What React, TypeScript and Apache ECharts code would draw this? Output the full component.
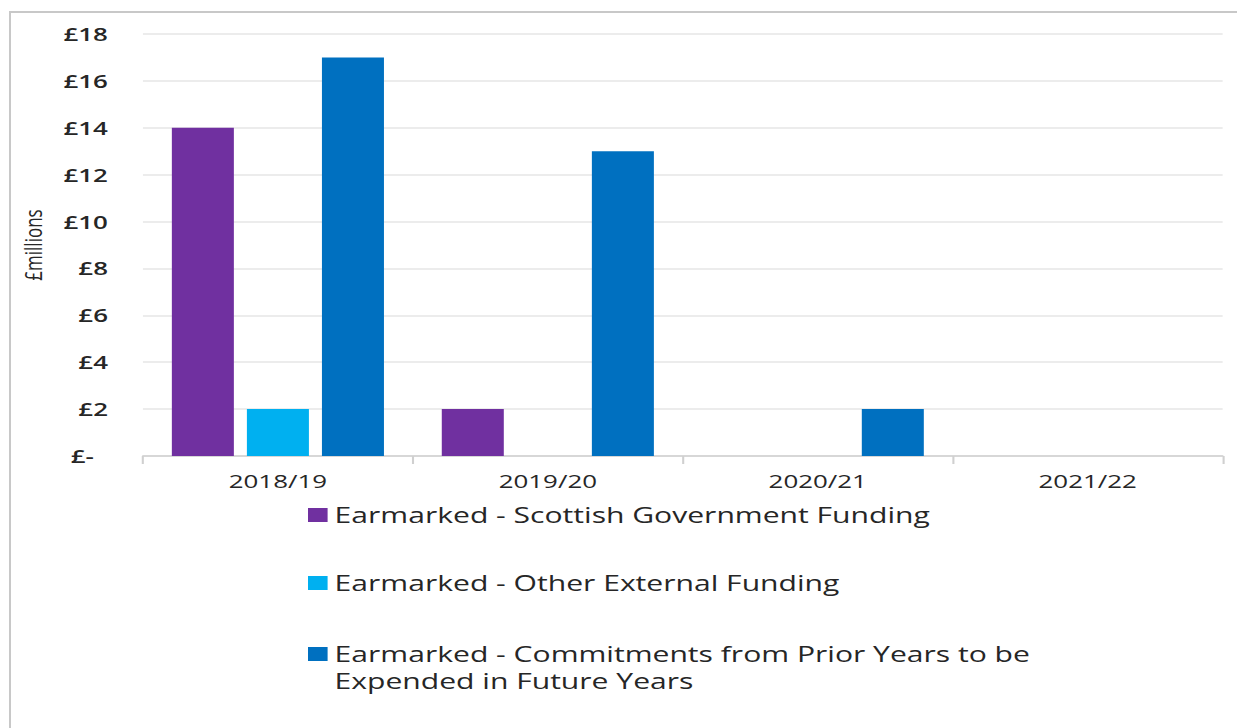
import React, { useEffect, useRef } from 'react';
import * as echarts from 'echarts';

const categories = ['2018/19', '2019/20', '2020/21', '2021/22'];
const sgFunding = [14, 2, 0, 0];
const otherExternal = [2, 0, 0, 0];
const commitments = [17, 13, 2, 0];
const seriesNames = [
  'Earmarked - Scottish Government Funding',
  'Earmarked - Other External Funding',
  'Earmarked - Commitments from Prior Years to be Expended in Future Years',
];
const legendLabels = [
  'Earmarked - Scottish Government Funding',
  'Earmarked - Other External Funding',
  '\nEarmarked - Commitments from Prior Years to be\nExpended in Future Years',
];
const colors = ['#7030A0', '#00B0F0', '#0070C0'];
const yMin = 0;
const yMax = 18;
const yInterval = 2;
const yAxisTitle = '£millions';

const S = 1.4;
const W = 1237;
const H = 728;
const CW = W / S;
const FONT = '"Open Sans", sans-serif';
const TXT = '#262626';

export default function App() {
  const ref = useRef<HTMLDivElement>(null);
  useEffect(() => {
    const chart = echarts.init(ref.current!, null, { renderer: 'svg' });
    const seriesData = [sgFunding, otherExternal, commitments];
    const legendTops = [501.5, 569.5, 613.5];
    chart.setOption({
      animation: false,
      textStyle: { fontFamily: FONT },
      grid: { left: 102.1, right: CW - 872.9, top: 34, bottom: H - 456, containLabel: false },
      xAxis: {
        type: 'category',
        data: categories,
        axisLine: { lineStyle: { color: '#d0d0d0', width: 1.5 } },
        axisTick: { show: true, length: 8, lineStyle: { color: '#d0d0d0', width: 1.5 } },
        axisLabel: { color: TXT, fontSize: 18.5, fontFamily: FONT, margin: 16 },
      },
      yAxis: {
        type: 'value',
        min: yMin,
        max: yMax,
        interval: yInterval,
        name: yAxisTitle,
        nameLocation: 'middle',
        nameGap: 70,
        nameTextStyle: { color: TXT, fontSize: 17, fontFamily: FONT },
        axisLine: { show: false },
        axisTick: { show: false },
        splitLine: { lineStyle: { color: '#e6e6e6', width: 1.5 } },
        axisLabel: {
          color: TXT,
          fontSize: 18.5,
          fontWeight: 600,
          fontFamily: FONT,
          margin: 25,
          formatter: (v: number) => (v === 0 ? '{z|£-}' : '£' + v),
          rich: {
            z: { color: TXT, fontSize: 18.5, fontWeight: 600, fontFamily: FONT, padding: [0, 10, 0, 0] },
          },
        },
      },
      legend: seriesNames.map((n, i) => ({
        data: [{ name: n }],
        orient: 'vertical',
        left: 220,
        top: legendTops[i],
        padding: 0,
        icon: 'rect',
        itemWidth: 14,
        itemHeight: 14,
        selectedMode: false,
        formatter: () => legendLabels[i],
        textStyle: { color: TXT, fontSize: 21.5, fontFamily: FONT, lineHeight: 27 },
      })),
      series: seriesNames.map((n, i) => ({
        type: 'bar',
        name: n,
        data: seriesData[i],
        barWidth: 44.3,
        barGap: '21%',
        itemStyle: { color: colors[i] },
      })),
    });
    return () => chart.dispose();
  }, []);
  return (
    <div style={{ position: 'fixed', left: 0, top: 0, width: W, height: H, background: '#fff', overflow: 'hidden' }}>
      <div
        style={{
          position: 'absolute',
          left: 9,
          top: 11,
          right: 0,
          bottom: 0,
          borderLeft: '2px solid #c8c8c8',
          borderTop: '2px solid #c8c8c8',
          boxSizing: 'border-box',
        }}
      />
      <div
        ref={ref}
        style={{ position: 'absolute', left: 0, top: 0, width: CW, height: H, transform: `scaleX(${S})`, transformOrigin: '0 0' }}
      />
    </div>
  );
}
